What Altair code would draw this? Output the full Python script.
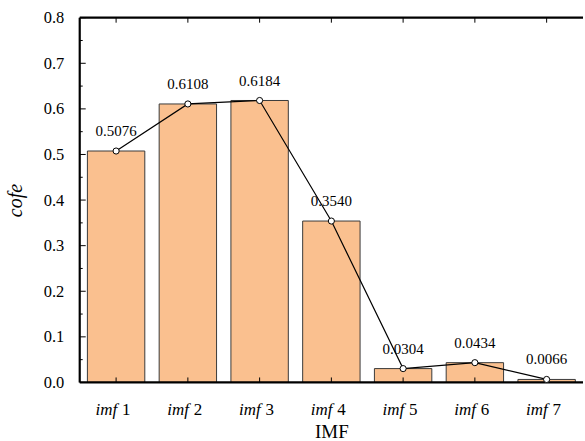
import altair as alt
import pandas as pd

categories = ["imf 1", "imf 2", "imf 3", "imf 4", "imf 5", "imf 6", "imf 7"]
numbers = ["1", "2", "3", "4", "5", "6", "7"]
values = [0.5076, 0.6108, 0.6184, 0.3540, 0.0304, 0.0434, 0.0066]
value_labels = ["0.5076", "0.6108", "0.6184", "0.3540", "0.0304", "0.0434", "0.0066"]
y_major = [0.0, 0.1, 0.2, 0.3, 0.4, 0.5, 0.6, 0.7, 0.8]
y_minor = [0.05, 0.15, 0.25, 0.35, 0.45, 0.55, 0.65, 0.75]

df = pd.DataFrame({"cat": categories, "num": numbers, "value": values, "label": value_labels})
df_major = pd.DataFrame({"v": y_major})
df_minor = pd.DataFrame({"v": y_minor})
df_one = pd.DataFrame({"k": [0]})

W, H = 505, 366
SERIF = "Liberation Serif"

xs = alt.Scale(domain=categories, paddingInner=0.2, paddingOuter=0.107)
ys = alt.Scale(domain=[0, 0.8], nice=False, zero=True)

x_enc = alt.X("cat:N", scale=xs, sort=categories,
              axis=alt.Axis(labels=False, ticks=False, domain=False, title="IMF",
                            titleFont=SERIF, titleFontSize=19, titleFontWeight="normal",
                            titleColor="black", titlePadding=40))
y_enc = alt.Y("value:Q", scale=ys,
              axis=alt.Axis(values=y_major, format=".1f", ticks=False, domain=False, grid=False,
                            labelFont=SERIF, labelFontSize=16.5, labelColor="black", labelPadding=16,
                            labelOverlap=False,
                            title="cofe", titleFont=SERIF, titleFontSize=20, titleFontStyle="italic",
                            titleFontWeight="normal", titleColor="black", titlePadding=18))

bars = alt.Chart(df).mark_bar(fill="#FAC08F", stroke="#3a3a3a", strokeWidth=1).encode(x=x_enc, y=y_enc)

xticks_bottom = alt.Chart(df).mark_rule(color="black", strokeWidth=1).encode(
    x=alt.X("cat:N", scale=xs, sort=categories), y=alt.value(H), y2=alt.value(H - 5))
xticks_top = alt.Chart(df).mark_rule(color="black", strokeWidth=1).encode(
    x=alt.X("cat:N", scale=xs, sort=categories), y=alt.value(0), y2=alt.value(5))

yticks_major = alt.Chart(df_major).mark_rule(color="black", strokeWidth=1).encode(
    y=alt.Y("v:Q", scale=ys), x=alt.value(0), x2=alt.value(6))
yticks_minor = alt.Chart(df_minor).mark_rule(color="black", strokeWidth=1).encode(
    y=alt.Y("v:Q", scale=ys), x=alt.value(0), x2=alt.value(3))

frame_left = alt.Chart(df_one).mark_rule(color="black", strokeWidth=2.2).encode(
    x=alt.value(0), y=alt.value(0), y2=alt.value(H))
frame_top = alt.Chart(df_one).mark_rule(color="black", strokeWidth=2.2).encode(
    x=alt.value(0), x2=alt.value(W), y=alt.value(0))
frame_bottom = alt.Chart(df_one).mark_rule(color="black", strokeWidth=2.2).encode(
    x=alt.value(0), x2=alt.value(W), y=alt.value(H))

line = alt.Chart(df).mark_line(color="black", strokeWidth=1.2).encode(
    x=alt.X("cat:N", scale=xs, sort=categories), y=alt.Y("value:Q", scale=ys))

points = alt.Chart(df).mark_point(filled=True, fill="white", stroke="black", strokeWidth=1,
                                  size=38, opacity=1).encode(
    x=alt.X("cat:N", scale=xs, sort=categories), y=alt.Y("value:Q", scale=ys))

texts = alt.Chart(df).mark_text(font=SERIF, fontSize=15, baseline="alphabetic", dy=-15,
                                color="black").encode(
    x=alt.X("cat:N", scale=xs, sort=categories), y=alt.Y("value:Q", scale=ys), text="label:N")

xlab_imf = alt.Chart(df).mark_text(font=SERIF, fontSize=17, fontStyle="italic", align="right",
                                   baseline="alphabetic", dx=1, color="black").encode(
    x=alt.X("cat:N", scale=xs, sort=categories), y=alt.value(H + 33), text=alt.value("imf"))
xlab_num = alt.Chart(df).mark_text(font=SERIF, fontSize=17, align="left",
                                   baseline="alphabetic", dx=6, color="black").encode(
    x=alt.X("cat:N", scale=xs, sort=categories), y=alt.value(H + 33), text="num:N")

chart = alt.layer(
    bars, xticks_bottom, yticks_major, frame_left,
    xticks_top, yticks_minor, frame_top, frame_bottom,
    line, points, texts, xlab_imf, xlab_num
).properties(
    width=W, height=H,
    padding={"left": 5, "top": 9, "right": 0, "bottom": 0},
).configure_view(strokeWidth=0)

chart.save("out.html", embed_options={"renderer": "svg", "actions": False})
